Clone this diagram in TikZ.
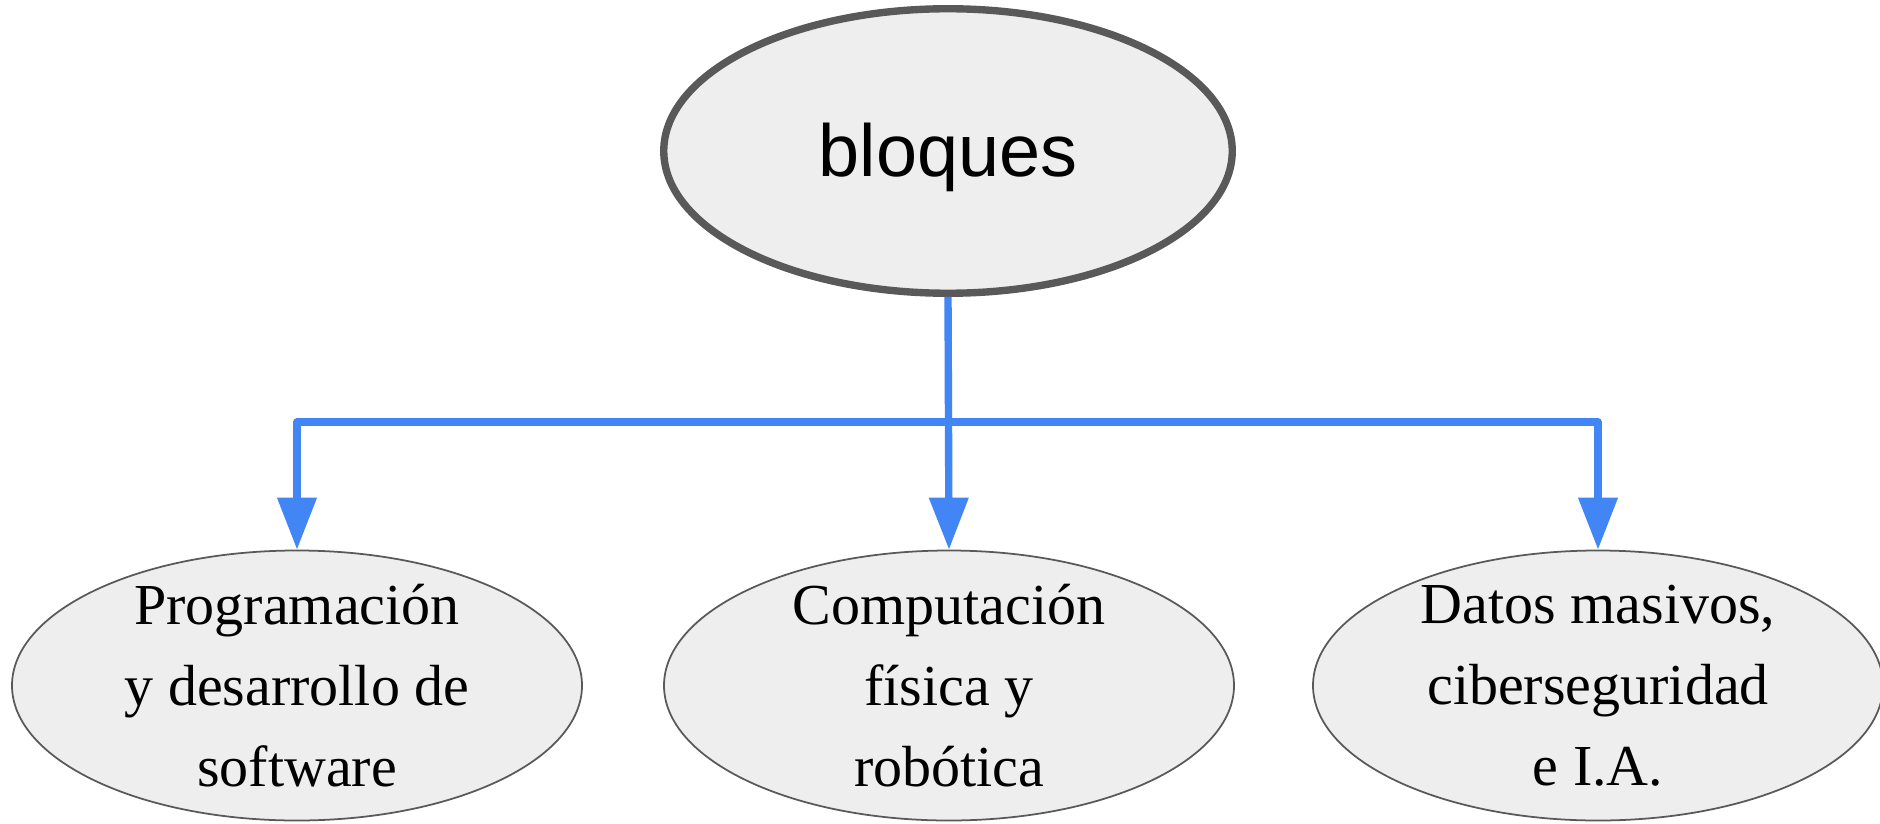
\documentclass[tikz,border=0pt]{standalone}
\usepackage{fontspec}
\setmainfont{Liberation Serif}
\newfontfamily\headfont{Liberation Sans}
\usetikzlibrary{arrows.meta,shapes.geometric}
\definecolor{nodefill}{HTML}{EEEEEE}
\definecolor{nodeline}{HTML}{595959}
\definecolor{flowblue}{HTML}{4285F4}

\begin{document}
\begin{tikzpicture}[
    topnode/.style={ellipse, draw=nodeline, line width=2.1pt, fill=nodefill, inner sep=0pt,
        minimum width=5.685cm, minimum height=2.845cm,
        label={[font=\headfont\fontsize{21}{25}\selectfont, yshift=-0.06cm]center:#1}},
    blocknode/.style={ellipse, draw=nodeline, line width=0.5pt, fill=nodefill, inner sep=0pt,
        minimum width=5.70cm, minimum height=2.70cm,
        label={[align=center, font=\fontsize{16.5}{23}\selectfont]center:#1}},
    flow/.style={draw=flowblue, line width=2.1pt, line join=round},
    flowarrow/.style={flow, -{Triangle[length=0.52cm,width=0.38cm]}, flowblue}
  ]
    \useasboundingbox (0,0) rectangle (18.8,-8.23);
		\node[topnode={bloques}] (bloques) at (9.48,-1.51) {};
		\node[blocknode={Programación\\y desarrollo de\\software}] (prog) at (2.97,-6.855) {};
		\node[blocknode={Computación\\física y\\robótica}] (fisica) at (9.49,-6.855) {};
		\node[blocknode={Datos masivos,\\ciberseguridad\\e I.A.}] (datos) at (15.98,-6.855) {};
		\coordinate (split) at (9.48,-4.22);
		\draw[flowarrow] (bloques.south) -- (fisica.north);
		\draw[flowarrow] (split) -| (prog.north);
		\draw[flowarrow] (split) -| (datos.north);
\end{tikzpicture}
\end{document}
